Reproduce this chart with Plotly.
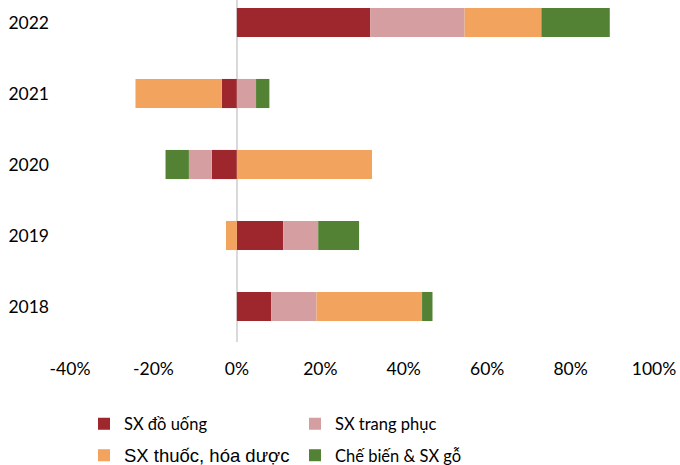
import plotly.graph_objects as go

years = ["2018", "2019", "2020", "2021", "2022"]
sx_do_uong = [8.2, 11.1, -6.0, -3.6, 32.0]
sx_trang_phuc = [10.9, 8.4, -5.5, 4.6, 22.6]
sx_thuoc = [25.3, -2.6, 32.4, -20.7, 18.4]
che_bien_go = [2.5, 9.8, -5.6, 3.2, 16.4]

names = ["SX đồ uống", "SX trang phục",
         "<span style=\"font-family:'Liberation Sans', Arial; font-size:18.5px\">SX thuốc, hóa dược</span>",
         "Chế biến & SX gỗ"]
colors = ["#9E272E", "#D59FA2", "#F2A35E", "#548235"]
series = [sx_do_uong, sx_trang_phuc, sx_thuoc, che_bien_go]
legends = ["legend", "legend", "legend2", "legend2"]

fig = go.Figure()
for n, c, s, lg in zip(names, colors, series, legends):
    fig.add_trace(go.Bar(
        y=years, x=s, name=n, orientation="h",
        marker=dict(color=c, line=dict(width=0)),
        legend=lg,
    ))

font = dict(family="Lato, Carlito, Calibri, sans-serif", size=17.5, color="#000000")
legfont = dict(family="Lato, Carlito, Calibri, sans-serif", size=16.5, color="#000000")

fig.update_layout(
    barmode="relative",
    bargap=0.59,
    width=680, height=465,
    margin=dict(l=70, r=26, t=0, b=123),
    paper_bgcolor="white", plot_bgcolor="white",
    font=font,
    xaxis=dict(
        range=[-40, 100], tickvals=[-40, -20, 0, 20, 40, 60, 80, 100],
        ticktext=["-40%", "-20%", "0%", "20%", "40%", "60%", "80%", "100%"],
        showgrid=False, zeroline=True, zerolinecolor="#D9D9D9", zerolinewidth=2,
        showline=False, ticks="", ticklabelstandoff=14, automargin=False,
        tickfont=font,
    ),
    yaxis=dict(
        type="category", categoryorder="array", categoryarray=years,
        range=[-0.5, 4.317], showgrid=False, zeroline=False, showline=False,
        ticks="", ticklabelstandoff=20, automargin=False, tickfont=font,
    ),
    legend=dict(
        orientation="h", xref="container", yref="container",
        x=84 / 680, xanchor="left", y=1 - 424 / 465, yanchor="middle",
        entrywidth=166, entrywidthmode="pixels", font=legfont,
        bgcolor="rgba(0,0,0,0)", traceorder="normal",
    ),
    legend2=dict(
        orientation="h", xref="container", yref="container",
        x=84 / 680, xanchor="left", y=1 - 455.5 / 465, yanchor="middle",
        entrywidth=166, entrywidthmode="pixels", font=legfont,
        bgcolor="rgba(0,0,0,0)", traceorder="normal",
    ),
)

fig.write_html("out.html")
